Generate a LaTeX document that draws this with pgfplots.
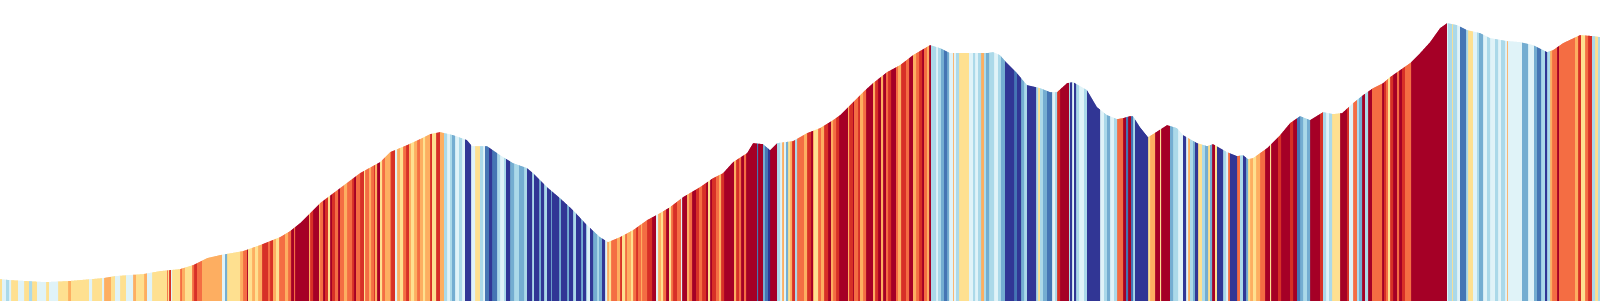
\documentclass[border=0pt]{standalone}
\usepackage{pgfplots}
\usepackage{pgfplotstable}
\pgfplotsset{compat=1.18}
\definecolor{c0}{HTML}{A50026}
\definecolor{c1}{HTML}{D73027}
\definecolor{c2}{HTML}{F46D43}
\definecolor{c3}{HTML}{FDAE61}
\definecolor{c4}{HTML}{FEE090}
\definecolor{c5}{HTML}{E0F3F8}
\definecolor{c6}{HTML}{ABD9E9}
\definecolor{c7}{HTML}{74ADD1}
\definecolor{c8}{HTML}{4575B4}
\definecolor{c9}{HTML}{313695}
% colour runs: start x, colour class (0 = steep up ... 9 = steep down; -1 = none)
\pgfplotstableread[row sep=\\]{
x c\\
0 -1\\
0 4\\ 2 5\\ 6 6\\ 9 5\\ 11 4\\ 18 5\\ 24 4\\ 29 6\\ 32 4\\ 37 5\\ 46 4\\ 49 5\\ 58 4\\ 68 3\\ 71 4\\ 89 5\\ 92 4\\ 102 5\\ 104 3\\ 111 4\\
115 5\\ 120 4\\ 126 5\\ 133 3\\ 136 4\\ 144 3\\ 147 5\\ 152 4\\ 167 2\\ 168 4\\ 169 1\\ 171 5\\ 172 4\\ 180 2\\ 182 3\\ 185 4\\ 192 2\\ 194 1\\ 197 2\\ 202 3\\
222 5\\ 225 7\\ 227 4\\ 240 3\\ 243 2\\ 247 0\\ 248 4\\ 252 3\\ 255 4\\ 258 3\\ 262 1\\ 268 2\\ 270 1\\ 273 3\\ 276 4\\ 279 2\\ 285 3\\ 288 2\\ 291 0\\ 294 2\\
295 0\\ 309 3\\ 310 1\\ 313 0\\ 319 3\\ 320 2\\ 323 0\\ 325 1\\ 328 4\\ 330 0\\ 332 1\\ 335 2\\ 338 0\\ 340 2\\ 344 3\\ 347 2\\ 352 1\\ 354 0\\ 356 2\\ 360 1\\
364 4\\ 365 2\\ 369 3\\ 371 2\\ 374 1\\ 375 3\\ 377 0\\ 380 4\\ 382 2\\ 385 3\\ 390 2\\ 391 1\\ 395 5\\ 397 3\\ 400 4\\ 403 2\\ 406 1\\ 409 3\\ 411 4\\ 414 3\\
417 2\\ 420 3\\ 423 4\\ 425 3\\ 430 1\\ 432 4\\ 436 1\\ 440 3\\ 444 6\\ 447 5\\ 450 6\\ 452 7\\ 455 5\\ 459 6\\ 462 5\\ 465 9\\ 471 5\\ 475 4\\ 480 6\\ 483 5\\
485 8\\ 489 9\\ 492 8\\ 497 6\\ 500 5\\ 504 6\\ 506 9\\ 510 7\\ 514 6\\ 519 7\\ 524 6\\ 527 9\\ 532 6\\ 534 9\\ 539 7\\ 541 9\\ 544 6\\ 547 9\\ 551 7\\ 552 9\\
559 7\\ 561 9\\ 567 7\\ 569 9\\ 573 6\\ 576 9\\ 581 7\\ 583 9\\ 586 6\\ 587 5\\ 590 9\\ 593 7\\ 597 6\\ 599 7\\ 602 9\\ 605 5\\ 607 3\\ 609 4\\ 611 2\\ 617 3\\
620 1\\ 622 4\\ 625 2\\ 627 3\\ 631 4\\ 633 2\\ 636 1\\ 638 2\\ 641 3\\ 642 2\\ 647 1\\ 652 0\\ 656 5\\ 658 3\\ 661 4\\ 663 2\\ 666 0\\ 669 4\\ 671 2\\ 673 1\\
677 2\\ 681 5\\ 682 0\\ 687 3\\ 689 2\\ 692 0\\ 696 1\\ 699 2\\ 702 1\\ 706 0\\ 708 4\\ 710 0\\ 712 1\\ 716 2\\ 719 3\\ 721 1\\ 724 0\\ 734 3\\ 736 1\\ 739 2\\
741 0\\ 744 2\\ 746 0\\ 757 8\\ 758 0\\ 763 7\\ 765 8\\ 768 9\\ 770 0\\ 777 6\\ 780 5\\ 782 3\\ 784 5\\ 786 7\\ 788 4\\ 790 3\\ 792 1\\ 795 6\\ 797 2\\ 804 3\\
807 1\\ 811 0\\ 813 3\\ 814 4\\ 818 2\\ 821 3\\ 824 1\\ 828 0\\ 831 3\\ 833 2\\ 836 1\\ 839 0\\ 848 3\\ 849 1\\ 853 0\\ 854 2\\ 858 1\\ 860 3\\ 863 2\\ 866 0\\
873 3\\ 875 1\\ 878 0\\ 881 3\\ 883 0\\ 886 2\\ 888 1\\ 891 0\\ 896 2\\ 898 3\\ 901 1\\ 906 2\\ 909 0\\ 913 3\\ 916 2\\ 919 1\\ 922 0\\ 924 2\\ 927 3\\ 929 0\\
931 6\\ 936 5\\ 938 6\\ 941 7\\ 944 8\\ 947 7\\ 949 5\\ 953 3\\ 954 5\\ 956 6\\ 959 4\\ 969 5\\ 973 6\\ 975 5\\ 978 6\\ 981 3\\ 984 6\\ 986 7\\ 989 6\\ 994 5\\
998 6\\ 1001 7\\ 1005 9\\ 1014 8\\ 1017 9\\ 1021 7\\ 1024 6\\ 1027 9\\ 1036 6\\ 1038 4\\ 1040 6\\ 1043 7\\ 1047 8\\ 1052 5\\ 1055 6\\ 1057 1\\ 1060 0\\ 1069 6\\ 1070 9\\ 1072 5\\
1074 9\\ 1076 6\\ 1079 5\\ 1084 6\\ 1087 9\\ 1100 5\\ 1104 6\\ 1107 7\\ 1110 5\\ 1114 6\\ 1117 2\\ 1123 0\\ 1126 8\\ 1128 0\\ 1131 8\\ 1133 6\\ 1135 9\\ 1148 4\\ 1150 3\\ 1155 0\\
1160 4\\ 1161 0\\ 1170 7\\ 1173 6\\ 1178 5\\ 1183 9\\ 1186 5\\ 1188 3\\ 1190 6\\ 1193 7\\ 1195 9\\ 1198 4\\ 1202 6\\ 1205 7\\ 1208 4\\ 1210 7\\ 1212 0\\ 1215 4\\ 1217 9\\ 1223 6\\
1226 5\\ 1228 2\\ 1230 9\\ 1237 2\\ 1240 6\\ 1243 9\\ 1246 7\\ 1248 4\\ 1250 3\\ 1253 4\\ 1256 3\\ 1260 2\\ 1265 0\\ 1270 4\\ 1271 0\\ 1278 1\\ 1281 0\\ 1290 1\\ 1293 0\\ 1297 8\\
1300 7\\ 1303 6\\ 1307 7\\ 1310 0\\ 1320 1\\ 1323 6\\ 1326 5\\ 1329 6\\ 1332 4\\ 1340 0\\ 1347 1\\ 1349 5\\ 1353 2\\ 1357 6\\ 1359 7\\ 1362 0\\ 1365 6\\ 1368 0\\ 1372 2\\ 1382 0\\
1384 1\\ 1386 2\\ 1388 4\\ 1390 1\\ 1393 0\\ 1397 2\\ 1399 0\\ 1402 1\\ 1405 2\\ 1411 0\\ 1447 5\\ 1448 6\\ 1452 4\\ 1453 6\\ 1457 5\\ 1460 8\\ 1466 6\\ 1468 4\\ 1473 5\\ 1477 6\\
1479 7\\ 1483 5\\ 1487 6\\ 1490 5\\ 1495 6\\ 1498 5\\ 1501 6\\ 1505 5\\ 1507 3\\ 1508 5\\ 1522 7\\ 1528 5\\ 1534 7\\ 1537 8\\ 1541 6\\ 1545 9\\ 1547 6\\ 1550 3\\ 1552 2\\ 1557 0\\
1559 2\\ 1575 3\\ 1578 1\\ 1581 4\\ 1585 2\\ 1588 1\\ 1592 6\\ 1595 4\\ 1598 6\\ 1600 -1\\
}\runs
% elevation profile (height above the bottom), with the two top corners
\pgfplotstableread[row sep=\\]{
x h\\
0 310\\ 0 21\\ 10 20\\ 45 18\\ 68 19\\ 103 22\\ 115 24\\ 143 26\\ 160 29\\ 180 31\\ 193 35\\ 207 42\\ 220 45\\ 243 49\\ 260 55\\ 280 63\\ 290 69\\ 300 77\\
320 97\\ 340 112\\ 360 127\\ 380 138\\ 390 148\\ 407 155\\ 420 161\\ 430 166\\ 440 168\\ 453 165\\ 467 160\\ 472 154\\ 487 154\\ 500 145\\ 513 137\\ 527 132\\ 533 127\\
547 113\\ 560 102\\ 573 90\\ 587 75\\ 600 63\\ 608 58\\ 620 63\\ 633 70\\ 647 80\\ 660 87\\ 670 93\\ 683 103\\ 700 113\\ 713 122\\ 723 127\\ 733 138\\ 747 147\\ 753 157\\
763 156\\ 770 150\\ 777 157\\ 793 159\\ 807 167\\ 820 172\\ 833 180\\ 840 185\\ 853 198\\ 863 208\\ 873 217\\ 887 228\\ 900 235\\ 913 245\\ 930 255\\ 940 252\\ 950 247\\
970 247\\ 987 247\\ 993 248\\ 1000 245\\ 1007 237\\ 1017 227\\ 1027 215\\ 1040 212\\ 1050 208\\ 1057 208\\ 1067 217\\ 1073 218\\ 1087 210\\ 1097 193\\ 1107 185\\ 1117 181\\
1123 182\\ 1130 184\\ 1133 184\\ 1140 173\\ 1148 163\\ 1153 166\\ 1167 175\\ 1177 172\\ 1183 165\\ 1197 157\\ 1207 154\\ 1213 156\\ 1220 152\\ 1227 148\\ 1237 144\\ 1243 145\\
1248 141\\ 1253 142\\ 1267 152\\ 1280 165\\ 1290 177\\ 1300 184\\ 1310 180\\ 1323 188\\ 1333 186\\ 1342 187\\ 1353 197\\ 1363 205\\ 1373 212\\ 1383 217\\ 1390 223\\ 1400 230\\
1410 237\\ 1420 247\\ 1430 258\\ 1440 272\\ 1447 277\\ 1457 275\\ 1467 270\\ 1480 267\\ 1490 262\\ 1507 259\\ 1520 258\\ 1533 255\\ 1547 248\\ 1553 250\\ 1563 257\\ 1580 265\\
1593 264\\ 1600 263\\ 1600 310\\
}\profile
\begin{document}
\begin{tikzpicture}
\begin{axis}[
  width=16cm, height=3cm, scale only axis,
  xmin=0, xmax=1600, ymin=0, ymax=300,
  hide axis, clip=true,
]
\pgfplotsinvokeforeach{0,...,9}{
  \addplot[draw=none, fill=c#1, const plot mark left]
    table[x=x, y expr={\thisrow{c}==#1 ? 310 : -20}] {\runs};
}
\addplot[draw=none, fill=white] table[x=x, y=h] {\profile};
\end{axis}
\pgfresetboundingbox
\path[use as bounding box] (current axis.south west) rectangle (current axis.north east);
\end{tikzpicture}
\end{document}
